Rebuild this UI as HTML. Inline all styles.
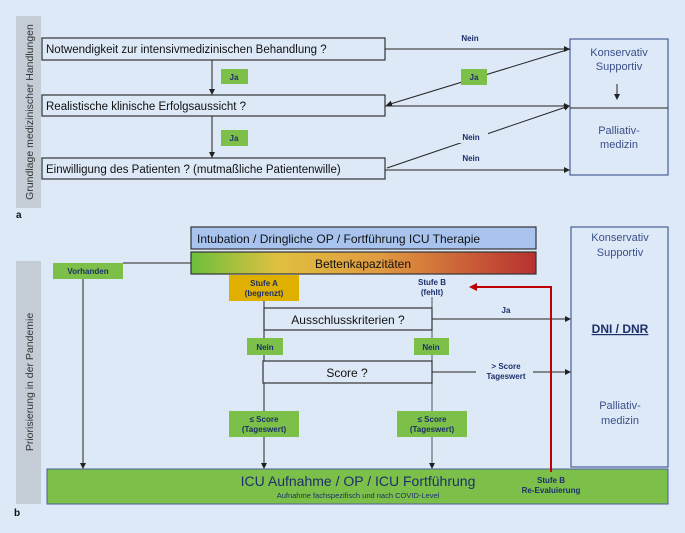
<!DOCTYPE html>
<html><head><meta charset="utf-8"><style>
body{margin:0;background:#dde9f7;}
svg{display:block;font-family:"Liberation Sans",sans-serif;}
</style></head><body>
<svg width="685" height="533" viewBox="0 0 685 533" xmlns="http://www.w3.org/2000/svg">
<defs>
<marker id="ah" markerWidth="6" markerHeight="6" refX="5" refY="3" orient="auto" markerUnits="userSpaceOnUse"><path d="M0,0 L6,3 L0,6 z" fill="#222"/></marker>
<marker id="ahr" markerWidth="8" markerHeight="8" refX="6" refY="4" orient="auto" markerUnits="userSpaceOnUse"><path d="M0,0 L8,4 L0,8 z" fill="#c00000"/></marker>
<linearGradient id="g" x1="0" x2="1"><stop offset="0" stop-color="#6cbf3c"/><stop offset="0.25" stop-color="#e0c040"/><stop offset="0.55" stop-color="#e09a40"/><stop offset="1" stop-color="#b83030"/></linearGradient>
</defs>
<rect width="685" height="533" fill="#dde9f7"/>
<!-- Panel a -->
<rect x="16" y="16" width="25" height="192" fill="#c4cdd6"/>
<text transform="translate(33,112) rotate(-90)" font-size="10.5" text-anchor="middle" fill="#333">Grundlage medizinischer Handlungen</text>
<text x="16" y="218" font-size="10" font-weight="bold" fill="#111">a</text>
<g fill="#dde9f7" stroke="#333" stroke-width="1.2">
<rect x="42" y="38" width="343" height="22"/>
<rect x="42" y="95" width="343" height="21"/>
<rect x="42" y="158" width="343" height="21"/>
</g>
<g font-size="11.5" fill="#111">
<text x="46" y="53">Notwendigkeit zur intensivmedizinischen Behandlung ?</text>
<text x="46" y="110">Realistische klinische Erfolgsaussicht ?</text>
<text x="46" y="173">Einwilligung des Patienten ? (mutmaßliche Patientenwille)</text>
</g>
<rect x="570" y="39" width="98" height="136" fill="#dde9f7" stroke="#4a5f9a" stroke-width="1.2"/>
<line x1="570" y1="108" x2="668" y2="108" stroke="#222" stroke-width="1"/>
<g font-size="11" fill="#3b4f8a" text-anchor="middle">
<text x="619" y="56">Konservativ</text><text x="619" y="70">Supportiv</text>
<text x="619" y="134">Palliativ-</text><text x="619" y="148">medizin</text>
</g>
<g stroke="#222" stroke-width="1" fill="none" marker-end="url(#ah)">
<line x1="617" y1="84" x2="617" y2="99"/>
<line x1="212" y1="60" x2="212" y2="94"/>
<line x1="212" y1="116" x2="212" y2="157"/>
<line x1="385" y1="49" x2="569" y2="49"/>
<line x1="570" y1="49" x2="387" y2="105"/>
<line x1="385" y1="106" x2="569" y2="106"/>
<line x1="387" y1="168" x2="569" y2="106"/>
<line x1="385" y1="170" x2="569" y2="170"/>
</g>
<g fill="#7cc04a"><rect x="221" y="69" width="27" height="15"/><rect x="461" y="69" width="26" height="16"/><rect x="221" y="130" width="27" height="16"/></g>
<rect x="458" y="128" width="30" height="15" fill="#dde9f7"/>
<g font-size="8" font-weight="bold" fill="#1d2f6a" text-anchor="middle">
<text x="234" y="80">Ja</text><text x="474" y="80">Ja</text><text x="234" y="141">Ja</text>
<text x="470" y="41">Nein</text><text x="471" y="140">Nein</text><text x="471" y="161">Nein</text>
</g>
<!-- Panel b -->
<rect x="16" y="261" width="25" height="243" fill="#c4cdd6"/>
<text transform="translate(33,382) rotate(-90)" font-size="10.5" text-anchor="middle" fill="#333">Priorisierung in der Pandemie</text>
<text x="14" y="516" font-size="10" font-weight="bold" fill="#111">b</text>
<rect x="191" y="227" width="345" height="22" fill="#a8c4ee" stroke="#333" stroke-width="1.2"/>
<text x="197" y="243" font-size="12" fill="#111">Intubation / Dringliche OP / Fortführung ICU Therapie</text>
<rect x="191" y="252" width="345" height="22" fill="url(#g)" stroke="#333" stroke-width="1.2"/>
<text x="363" y="268" font-size="12" text-anchor="middle" fill="#111">Bettenkapazitäten</text>
<rect x="571" y="227" width="97" height="240" fill="#dde9f7" stroke="#4a5f9a" stroke-width="1.2"/>
<g font-size="11" fill="#3b4f8a" text-anchor="middle">
<text x="620" y="241">Konservativ</text><text x="620" y="256">Supportiv</text>
<text x="620" y="409">Palliativ-</text><text x="620" y="424">medizin</text>
</g>
<text x="620" y="333" font-size="12" font-weight="bold" fill="#1d2f6a" text-anchor="middle" text-decoration="underline">DNI / DNR</text>
<rect x="47" y="469" width="621" height="35" fill="#7cc04a" stroke="#4a5f9a" stroke-width="1"/>
<text x="358" y="486" font-size="14" text-anchor="middle" fill="#1d2f6a">ICU Aufnahme / OP / ICU Fortführung</text>
<text x="358" y="498" font-size="7.5" text-anchor="middle" fill="#1d2f6a">Aufnahme fachspezifisch und nach COVID-Level</text>
<line x1="123" y1="263" x2="191" y2="263" stroke="#222" stroke-width="1"/>
<g stroke="#222" stroke-width="1" fill="none">
<line x1="264" y1="301" x2="264" y2="468" marker-end="url(#ah)"/>
<line x1="432" y1="297" x2="432" y2="468" stroke="#555" marker-end="url(#ah)"/>
<line x1="83" y1="279" x2="83" y2="468" marker-end="url(#ah)"/>
<line x1="432" y1="319" x2="570" y2="319" marker-end="url(#ah)"/>
<line x1="432" y1="372" x2="476" y2="372"/>
<line x1="533" y1="372" x2="570" y2="372" marker-end="url(#ah)"/>
</g>
<rect x="53" y="263" width="70" height="16" fill="#7cc04a"/>
<text x="88" y="274" font-size="8" font-weight="bold" fill="#1d2f6a" text-anchor="middle">Vorhanden</text>
<rect x="229" y="275" width="70" height="26" fill="#e0b000"/>
<g font-size="8" font-weight="bold" fill="#1d2f6a" text-anchor="middle">
<text x="264" y="286">Stufe A</text><text x="264" y="296">(begrenzt)</text>
<text x="432" y="285">Stufe B</text><text x="432" y="295">(fehlt)</text>
</g>
<g fill="#dde9f7" stroke="#333" stroke-width="1.2">
<rect x="264" y="308" width="168" height="22"/>
<rect x="263" y="361" width="169" height="22"/>
</g>
<text x="348" y="324" font-size="12" text-anchor="middle" fill="#111">Ausschlusskriterien ?</text>
<text x="347" y="377" font-size="12" text-anchor="middle" fill="#111">Score ?</text>
<g fill="#7cc04a">
<rect x="247" y="338" width="36" height="17"/><rect x="414" y="338" width="35" height="17"/>
<rect x="229" y="411" width="70" height="26"/><rect x="397" y="411" width="70" height="26"/>
</g>
<g font-size="8" font-weight="bold" fill="#1d2f6a" text-anchor="middle">
<text x="265" y="350">Nein</text><text x="431" y="350">Nein</text>
<text x="264" y="422">≤ Score</text><text x="264" y="432">(Tageswert)</text>
<text x="432" y="422">≤ Score</text><text x="432" y="432">(Tageswert)</text>
<text x="506" y="313">Ja</text>
<text x="506" y="369">&gt; Score</text><text x="506" y="379">Tageswert</text>
<text x="551" y="483">Stufe B</text><text x="551" y="493">Re-Evaluierung</text>
</g>
<polyline points="551,472 551,287 471,287" fill="none" stroke="#c00000" stroke-width="2" marker-end="url(#ahr)"/>
</svg>
</body></html>
